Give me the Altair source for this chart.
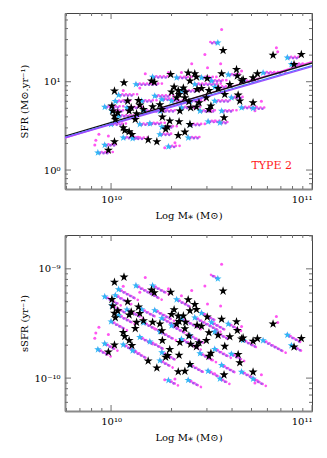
import altair as alt
import pandas as pd

# ---------------- data (stellar mass in units of 1e10 Msun, SFR in Msun/yr) -------------
black_mass = [0.97, 1.04, 1.04, 1.16, 1.01, 1.02, 1.04, 1.05, 1.08, 1.21, 1.23, 1.26, 1.37, 1.39,
              1.45, 1.34, 1.32, 1.15, 1.17, 1.23, 1.27, 1.53, 1.69, 1.59, 1.64, 1.61, 1.75, 1.80,
              1.87, 1.98, 2.00, 2.06, 2.12, 2.16, 2.18, 2.20, 1.96, 2.29, 2.33, 2.35, 2.16, 2.18,
              2.42, 2.47, 2.44, 2.49, 2.47, 2.33, 2.61, 2.66, 2.68, 2.66, 2.74, 2.82, 3.01, 3.07,
              2.98, 3.07, 3.14, 3.41, 3.55, 3.61, 3.65, 3.68, 3.90, 4.21, 4.25, 4.29, 4.37, 4.46,
              4.54, 5.09, 5.35, 5.09, 6.40, 8.14, 8.85, 1.91, 1.79]
black_sfr = [1.68, 2.09, 7.84, 9.75, 5.31, 4.66, 4.09, 3.75, 4.46, 6.04, 4.66, 5.08, 6.15, 5.44,
             4.86, 4.34, 3.75, 3.01, 2.81, 2.72, 2.53, 2.20, 2.09, 10.2, 9.9, 5.22, 5.49, 3.98,
             2.91, 12.1, 7.64, 8.71, 6.59, 7.98, 7.19, 4.66, 3.59, 8.5, 6.59, 7.64, 2.47, 3.53,
             12.6, 10.2, 5.94, 5.08, 3.29, 2.69, 12.3, 11.3, 8.19, 5.17, 5.78, 8.41, 10.9, 7.98,
             6.59, 4.86, 5.31, 8.41, 12.3, 22.6, 3.91, 7.19, 9.33, 13.8, 11.6, 7.06, 6.04, 10.2,
             10.6, 11.1, 12.3, 5.78, 20.0, 15.7, 20.4, 3.07, 4.86]

cyan_mass = [0.86, 0.93, 0.93, 1.09, 1.33, 1.61, 1.65, 1.15, 1.28, 1.45, 1.79, 1.75, 1.93, 2.42,
             2.24, 2.61, 3.04, 3.48, 3.40, 3.83, 3.97, 4.46, 5.09, 5.71, 7.54, 7.90, 2.12, 1.09,
             1.01, 1.42, 1.20, 2.00, 2.47, 2.77, 3.28, 3.16, 1.39, 2.24, 1.75, 2.82, 3.55, 1.00,
             1.05, 1.56, 1.79, 4.54, 2.47, 3.28]
cyan_sfr = [1.57, 1.92, 5.17, 7.06, 9.33, 11.3, 6.88, 2.32, 2.28, 4.66, 3.07, 2.53, 1.84, 2.32,
            5.08, 9.33, 3.53, 3.43, 27.6, 12.0, 6.59, 5.08, 5.00, 12.6, 18.7, 15.7, 11.1, 4.09,
            4.66, 6.04, 5.08, 6.04, 6.04, 4.66, 6.04, 10.2, 3.29, 7.84, 4.66, 11.1, 4.66, 3.29,
            6.0, 3.36, 6.3, 10.1, 3.26, 8.7]
trail_purple_end = [0.97, 1.04, 1.10, 1.30, 1.70, 1.88, 1.98, 1.35, 1.47, 1.74, 2.06, 1.96, 2.12,
                    2.72, 2.69, 3.44, 3.41, 3.81, 3.15, 4.30, 4.45, 5.24, 5.71, 7.19, 8.66, 8.86,
                    2.43, 1.28, 1.16, 1.63, 1.38, 2.35, 2.84, 3.25, 3.85, 3.63, 1.60, 2.69, 2.06,
                    3.24, 4.08, 1.15, 1.21, 1.79, 2.10, 5.20, 2.84, 3.77]
trail_magenta_end = [1.02, 1.08, 1.15, 1.36, 1.80, 1.97, 2.07, 1.42, 1.52, 1.82, 2.14, 2.03, 2.20,
                     2.82, 2.80, 3.60, 3.55, 3.95, 3.08, 4.45, 4.60, 5.45, 5.90, 7.50, 8.90, 9.10,
                     2.52, 1.33, 1.20, 1.70, 1.44, 2.45, 2.95, 3.38, 4.00, 3.78, 1.66, 2.80, 2.14,
                     3.36, 4.22, 1.20, 1.26, 1.86, 2.18, 5.40, 2.95, 3.92]

magenta_mass = [0.83, 0.84, 0.97, 1.48, 2.52, 3.51, 3.55, 6.65, 6.75, 1.93, 2.24, 3.02, 1.15,
                5.20, 5.60, 2.61, 3.16, 1.85, 2.08, 3.28, 4.46, 2.93, 1.65, 1.39, 0.87]
magenta_sfr = [1.92, 2.17, 2.43, 12.3, 16.0, 16.0, 39.0, 24.3, 21.8, 12.7, 12.7, 14.4, 7.98,
               4.7, 6.0, 5.1, 4.66, 1.79, 2.04, 3.6, 13.2, 20.4, 4.66, 8.5, 2.54]

fit_mass = [0.59, 10.0]
fit_names = ["magenta", "black", "blue", "purple"]
fit_sfr = {"magenta": [2.30, 16.9], "black": [2.42, 16.3], "blue": [2.36, 15.2], "purple": [2.32, 14.8]}
fit_colors = ["#ff44ee", "#111111", "#4a7dff", "#9a4dff"]

x_major = [1, 10]
x_minor = [0.6, 0.7, 0.8, 0.9, 2, 3, 4, 5, 6, 7, 8, 9]
sfr_major = [1, 10]
sfr_minor = [0.7, 0.8, 0.9, 2, 3, 4, 5, 6, 7, 8, 9, 20, 30, 40, 50]
ssfr_major = [1e-10, 1e-9]
ssfr_minor = [6e-11, 7e-11, 8e-11, 9e-11, 2e-10, 3e-10, 4e-10, 5e-10, 6e-10, 7e-10, 8e-10,
              9e-10, 2e-9]

# ---------------- tables ----------------
black = pd.DataFrame({"m": black_mass, "sfr": black_sfr})
black["ssfr"] = black["sfr"] / (black["m"] * 1e10)
cyan = pd.DataFrame({"m": cyan_mass, "sfr": cyan_sfr, "pe": trail_purple_end, "me": trail_magenta_end})
cyan["ssfr"] = cyan["sfr"] / (cyan["m"] * 1e10)
cyan["ssfr_pe"] = cyan["sfr"] / (cyan["pe"] * 1e10)
cyan["ssfr_me"] = cyan["sfr"] / (cyan["me"] * 1e10)
mag = pd.DataFrame({"m": magenta_mass, "sfr": magenta_sfr})
mag["ssfr"] = mag["sfr"] / (mag["m"] * 1e10)
fits = pd.DataFrame([{"m": fit_mass[i], "sfr": fit_sfr[n][i], "fit": n}
                     for n in fit_names for i in range(2)])

STAR = ("M0,-1L0.2245,-0.309L0.951,-0.309L0.363,0.118L0.588,0.809L0,0.382"
        "L-0.588,0.809L-0.363,0.118L-0.951,-0.309L-0.2245,-0.309Z")
FONT = "DejaVu Serif"
W, H = 247, 176
CYAN = "#2fb8f5"
PURPLE = "#a856ee"
MAGENTA = "#ff55f2"


def panel(yf, ydom, ytitle, ylabel_expr, ymaj, ymin, top):
    xsc = alt.Scale(type="log", domain=[0.59, 10], nice=False)
    ysc = alt.Scale(type="log", domain=ydom, nice=False)
    xax = alt.Axis(values=x_major, labelExpr="datum.value < 5 ? '10¹⁰' : '10¹¹'",
                   title="Log M⁎ (M⊙)", ticks=False, grid=False)
    yax = alt.Axis(values=ymaj, labelExpr=ylabel_expr, title=ytitle, ticks=False, grid=False,
                   titleX=-36)
    X = lambda f: alt.X(f, type="quantitative", scale=xsc, axis=xax)
    Y = lambda f: alt.Y(f, type="quantitative", scale=ysc, axis=yax)

    layers = []
    base_c = alt.Chart(cyan)
    tstyle = dict(strokeWidth=2.6, strokeCap="round", strokeDash=[0.1, 3.6])
    if yf == "sfr":
        mtrail = base_c.mark_rule(color=MAGENTA, yOffset=-0.8, **tstyle).encode(
            x=X("m"), x2="me", y=Y("sfr"))
        ptrail = base_c.mark_rule(color=PURPLE, strokeDashOffset=1.8, yOffset=0.4, **tstyle).encode(
            x=X("m"), x2="pe", y=Y("sfr"))
    else:
        mtrail = base_c.mark_rule(color=MAGENTA, yOffset=-0.8, **tstyle).encode(
            x=X("m"), x2="me", y=Y("ssfr"), y2="ssfr_me")
        ptrail = base_c.mark_rule(color=PURPLE, strokeDashOffset=1.8, yOffset=0.4, **tstyle).encode(
            x=X("m"), x2="pe", y=Y("ssfr"), y2="ssfr_pe")
    layers += [mtrail, ptrail]
    layers.append(alt.Chart(mag).mark_circle(color=MAGENTA, size=9, opacity=1).encode(
        x=X("m"), y=Y(yf)))
    layers.append(base_c.mark_point(shape=STAR, filled=True, color=CYAN, size=60, opacity=1).encode(
        x=X("m"), y=Y(yf)))
    if top:
        layers.append(alt.Chart(fits).mark_line(strokeWidth=1.3, clip=True).encode(
            x=X("m"), y=Y("sfr"),
            color=alt.Color("fit:N", scale=alt.Scale(domain=fit_names, range=fit_colors), legend=None)))
    layers.append(alt.Chart(black).mark_point(shape=STAR, filled=True, color="#000000", size=90,
                                              opacity=1).encode(x=X("m"), y=Y(yf)))
    if top:
        layers.append(alt.Chart(pd.DataFrame({"m": [6.3], "sfr": [1.1], "t": ["TYPE 2"]})).mark_text(
            color="#ff1a1a", font=FONT, fontSize=11).encode(x=X("m"), y=Y("sfr"), text="t:N"))

    # inside ticks on all four sides
    tc = "#707070"
    for vals, ln in ((x_major, 6), (x_minor, 3)):
        d = alt.Chart(pd.DataFrame({"v": vals}))
        layers.append(d.mark_rule(color=tc, strokeWidth=1).encode(
            x=alt.X("v:Q", scale=xsc, axis=xax), y=alt.value(H), y2=alt.value(H - ln)))
        layers.append(d.mark_rule(color=tc, strokeWidth=1).encode(
            x=alt.X("v:Q", scale=xsc, axis=xax), y=alt.value(0), y2=alt.value(ln)))
    for vals, ln in ((ymaj, 6), (ymin, 3)):
        d = alt.Chart(pd.DataFrame({"v": vals}))
        layers.append(d.mark_rule(color=tc, strokeWidth=1).encode(
            y=alt.Y("v:Q", scale=ysc, axis=yax), x=alt.value(0), x2=alt.value(ln)))
        layers.append(d.mark_rule(color=tc, strokeWidth=1).encode(
            y=alt.Y("v:Q", scale=ysc, axis=yax), x=alt.value(W), x2=alt.value(W - ln)))
    return alt.layer(*layers).properties(width=W, height=H)


top = panel("sfr", [0.61, 60], "SFR (M⊙.yr⁻¹)", "datum.value < 5 ? '10⁰' : '10¹'",
            sfr_major, sfr_minor, True)
bottom = panel("ssfr", [5e-11, 2.04e-9], "sSFR (yr⁻¹)", "datum.value < 5e-10 ? '10⁻¹⁰' : '10⁻⁹'",
               ssfr_major, ssfr_minor, False)

chart = alt.vconcat(top, bottom, spacing=13).properties(
    padding={"left": 10, "top": 4, "right": 5, "bottom": 5}
).configure_view(stroke="#444444", strokeWidth=1).configure_axis(
    labelFont=FONT, titleFont=FONT, labelFontSize=10, titleFontSize=10, titleFontWeight="normal",
    labelColor="#000000", titleColor="#000000", domainColor="#8a8a8a", domainWidth=2,
    labelPadding=5, titlePadding=6
)

chart.save("out.html", embed_options={"renderer": "svg", "actions": False})
